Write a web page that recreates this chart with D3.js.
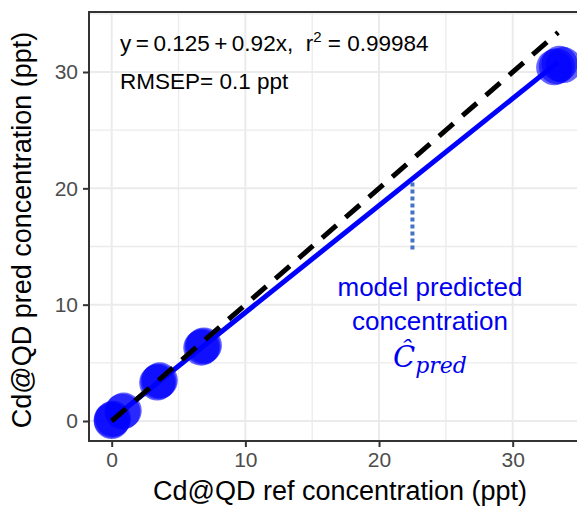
<!DOCTYPE html>
<html>
<head>
<meta charset="utf-8">
<script src="https://cdn.jsdelivr.net/npm/d3@7"></script>
<style>
  body { margin: 0; background: #fff; }
  svg { display: block; font-family: "Liberation Sans", Arial, sans-serif; }
</style>
</head>
<body>
<svg id="chart"></svg>
<script>
var width = 577;
var height = 507;

// reference vs predicted concentrations (ppt), replicates per level
var refConc  = [0, 0, 0.1, 0.8, 0.9, 3.4, 3.5, 3.6, 6.7, 6.8, 6.9, 33.1, 33.3, 33.5, 33.8];
var predConc = [0.1, 0.0, 0.2, 0.8, 0.9, 3.3, 3.4, 3.5, 6.3, 6.4, 6.5, 30.4, 30.5, 30.7, 30.6];

var xTicks = [0, 10, 20, 30];
var yTicks = [0, 10, 20, 30];
var gridBreaks = [0, 5, 10, 15, 20, 25, 30, 35];

var fitIntercept = 0.125;
var fitSlope = 0.92;
var fitRange = [0, 33.4];
var identityRange = [0, 33.4];
var arrowX = 22.5;
var arrowY = [20.5, 14.7];

var xScale = d3.scaleLinear().domain([0, 30]).range([111.7, 512.7]);
var yScale = d3.scaleLinear().domain([0, 30]).range([421, 72]);

var panel = { left: 89, top: 12, right: 600, bottom: 441 };

var svg = d3.select('#chart')
  .attr('width', width)
  .attr('height', height);

// grid
var grid = svg.append('g');
grid.selectAll('line.vx')
  .data(gridBreaks)
  .enter().append('line')
    .attr('x1', d => xScale(d)).attr('x2', d => xScale(d))
    .attr('y1', panel.top).attr('y2', panel.bottom)
    .attr('stroke', '#ebebeb').attr('stroke-width', d => d % 10 === 0 ? 2 : 1.3);
grid.selectAll('line.hy')
  .data(gridBreaks)
  .enter().append('line')
    .attr('y1', d => yScale(d)).attr('y2', d => yScale(d))
    .attr('x1', panel.left).attr('x2', panel.right)
    .attr('stroke', '#ebebeb').attr('stroke-width', d => d % 10 === 0 ? 2 : 1.3);

// points
var points = refConc.map((d, i) => ({ x: d, y: predConc[i] }));
svg.append('g')
  .selectAll('circle')
  .data(points)
  .enter().append('circle')
    .attr('cx', d => xScale(d.x))
    .attr('cy', d => yScale(d.y))
    .attr('r', 18)
    .attr('fill', '#0000ff')
    .attr('fill-opacity', 0.6);

// fitted line
var line = d3.line()
  .x(d => xScale(d[0]))
  .y(d => yScale(d[1]));

svg.append('path')
  .datum(fitRange.map(x => [x, fitIntercept + fitSlope * x]))
  .attr('fill', 'none')
  .attr('stroke', '#0000ff')
  .attr('stroke-width', 5)
  .attr('d', line);

// 1:1 line
svg.append('path')
  .datum(identityRange.map(x => [x, x]))
  .attr('fill', 'none')
  .attr('stroke', '#000')
  .attr('stroke-width', 5)
  .attr('stroke-dasharray', '19 12')
  .attr('d', line);

// dotted marker
svg.append('line')
  .attr('x1', xScale(arrowX)).attr('x2', xScale(arrowX))
  .attr('y1', yScale(arrowY[0])).attr('y2', yScale(arrowY[1]))
  .attr('stroke', '#4472c4')
  .attr('stroke-width', 4)
  .attr('stroke-dasharray', '4 3');

// panel border
svg.append('rect')
  .attr('x', panel.left).attr('y', panel.top)
  .attr('width', panel.right - panel.left).attr('height', panel.bottom - panel.top)
  .attr('fill', 'none')
  .attr('stroke', '#333')
  .attr('stroke-width', 2);

// axes
var xAxis = svg.append('g')
  .attr('transform', `translate(0, ${panel.bottom})`)
  .call(d3.axisBottom(xScale).tickValues(xTicks).tickSize(6).tickPadding(5).tickSizeOuter(0));
var yAxis = svg.append('g')
  .attr('transform', `translate(${panel.left}, 0)`)
  .call(d3.axisLeft(yScale).tickValues(yTicks).tickSize(6).tickPadding(5).tickSizeOuter(0));

[xAxis, yAxis].forEach(function(ax){
  ax.select('.domain').remove();
  ax.selectAll('line').attr('stroke', '#333').attr('stroke-width', 2);
  ax.selectAll('text')
    .attr('fill', '#4d4d4d')
    .style('font-size', '21px')
    .style('font-family', '"Liberation Sans", Arial, sans-serif');
});

// axis titles
svg.append('text')
  .attr('x', 340)
  .attr('y', 500)
  .style('text-anchor', 'middle')
  .style('font-size', '27px')
  .attr('fill', '#000')
  .text('Cd@QD ref concentration (ppt)');

svg.append('text')
  .attr('transform', 'rotate(-90)')
  .attr('x', -230)
  .attr('y', 31)
  .style('text-anchor', 'middle')
  .style('font-size', '27px')
  .attr('fill', '#000')
  .text('Cd@QD pred concentration (ppt)');

// equation
var eq = svg.append('text')
  .attr('x', 120)
  .attr('y', 51)
  .style('font-size', '22.5px')
  .attr('fill', '#000');
eq.append('tspan').text('y\u2009=\u20090.125\u2009+\u20090.92x,\u00a0\u00a0r');
eq.append('tspan').attr('dy', -9).style('font-size', '15px').text('2');
eq.append('tspan').attr('dy', 9).text('\u00a0= 0.99984');

svg.append('text')
  .attr('x', 120)
  .attr('y', 89)
  .style('font-size', '22.5px')
  .attr('fill', '#000')
  .text('RMSEP= 0.1 ppt');

// annotation
var ann = svg.append('g').attr('fill', '#0000ee');
ann.append('text')
  .attr('x', 430).attr('y', 296)
  .style('text-anchor', 'middle')
  .style('font-size', '26px')
  .text('model predicted');
ann.append('text')
  .attr('x', 430).attr('y', 330)
  .style('text-anchor', 'middle')
  .style('font-size', '26px')
  .text('concentration');
var chat = ann.append('text')
  .attr('x', 430).attr('y', 367)
  .style('text-anchor', 'middle')
  .style('font-family', '"DejaVu Serif", serif')
  .style('font-style', 'italic');
chat.append('tspan').style('font-size', '29px').text('C\u0302');
chat.append('tspan').attr('dy', 6).style('font-size', '22px').text('pred');
</script>
</body>
</html>
